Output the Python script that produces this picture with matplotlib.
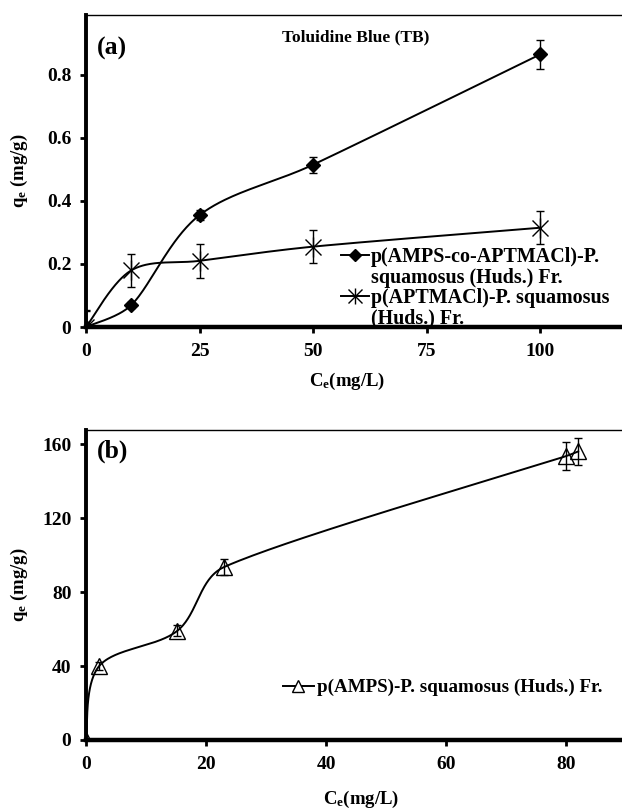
import numpy as np
import matplotlib
matplotlib.use("Agg")
import matplotlib.pyplot as plt

# --------------------
# data
# --------------------

# (a) Toluidine Blue
ce_a = [0, 10, 25, 50, 100]
qe_copoly = [0.0, 0.07, 0.355, 0.515, 0.865]
err_copoly = [0.05, 0.01, 0.015, 0.025, 0.045]
qe_aptmacl = [0.0, 0.18, 0.21, 0.255, 0.315]
err_aptmacl = [0.054, 0.053, 0.053, 0.053, 0.053]

# (b) p(AMPS)
ce_b = [0, 2.2, 15.2, 23, 80, 82]
qe_amps = [0, 40, 59, 93.5, 153.5, 156]
err_amps = [0, 2, 3, 4.5, 7.5, 7.5]

xticks_a = [0, 25, 50, 75, 100]
yticks_a = [0, 0.2, 0.4, 0.6, 0.8]
ytlabels_a = ["0", "0.2", "0.4", "0.6", "0.8"]
xticks_b = [0, 20, 40, 60, 80]
yticks_b = [0, 40, 80, 120, 160]

# legend text of (a), one entry per printed line
label_copoly = ["p(AMPS-co-APTMACl)-P.", "squamosus (Huds.) Fr."]
label_aptmacl = ["p(APTMACl)-P. squamosus", "(Huds.) Fr."]
label_amps = "p(AMPS)-P. squamosus (Huds.) Fr."

plt.rcParams["font.family"] = "Liberation Serif"
plt.rcParams["font.weight"] = "bold"
plt.rcParams["mathtext.fontset"] = "custom"
plt.rcParams["mathtext.rm"] = "Liberation Serif:bold"
plt.rcParams["mathtext.it"] = "Liberation Serif:bold"
plt.rcParams["mathtext.bf"] = "Liberation Serif:bold"

W, H = 622, 810


def smooth(x, y, kx, ky, n=60):
    # Excel-like smoothed line: Catmull-Rom bezier, control arms clamped
    # (in pixel space) so short segments do not loop back
    x = np.asarray(x, float) * kx
    y = np.asarray(y, float) * ky
    P = np.column_stack([x, y])
    P = np.vstack([P[0], P, P[-1]])
    t = np.linspace(0, 1, n)[:, None]
    out = []
    for i in range(1, len(P) - 2):
        p0, p1, p2, p3 = P[i - 1], P[i], P[i + 1], P[i + 2]
        seg = np.linalg.norm(p2 - p1)
        a1 = (p2 - p0) / 6
        a2 = (p3 - p1) / 6
        lim = 0.35 * seg
        if np.linalg.norm(a1) > lim:
            a1 = a1 / np.linalg.norm(a1) * lim
        if np.linalg.norm(a2) > lim:
            a2 = a2 / np.linalg.norm(a2) * lim
        c1 = p1 + a1
        c2 = p2 - a2
        b = ((1 - t) ** 3 * p1 + 3 * (1 - t) ** 2 * t * c1
             + 3 * (1 - t) * t ** 2 * c2 + t ** 3 * p2)
        out.append(b)
    out = np.vstack(out)
    return out[:, 0] / kx, out[:, 1] / ky


def style_axes(ax):
    ax.spines["right"].set_visible(False)
    ax.spines["top"].set_linewidth(1.0)
    ax.spines["left"].set_linewidth(2.8)
    ax.spines["bottom"].set_linewidth(3.2)
    ax.tick_params(axis="both", direction="out", length=4, width=2.0,
                   labelsize=14)
    ax.tick_params(axis="x", pad=7.5)
    ax.tick_params(axis="y", pad=6.5)


fig = plt.figure(figsize=(W / 100, H / 100), dpi=100)

# --------------------
# (a)
# --------------------
ax1 = fig.add_axes([86 / W, 1 - 327 / H, 536 / W, 312 / H])
xl_a = (0, 118)
yl_a = (0, 0.99)
kx = 536 / (xl_a[1] - xl_a[0])
ky = 312 / (yl_a[1] - yl_a[0])

sx, sy = smooth(ce_a, qe_copoly, kx, ky)
ax1.plot(sx, sy, color="black", lw=1.4, zorder=2)
ax1.errorbar(ce_a, qe_copoly, yerr=err_copoly, fmt="none", ecolor="black",
             elinewidth=1.0, capsize=3, capthick=1.0, zorder=3)
ax1.plot(ce_a, qe_copoly, "D", color="black", ms=7.5, zorder=4)

sx, sy = smooth(ce_a, qe_aptmacl, kx, ky)
ax1.plot(sx, sy, color="black", lw=1.4, zorder=2)
ax1.errorbar(ce_a, qe_aptmacl, yerr=err_aptmacl, fmt="none", ecolor="black",
             elinewidth=1.0, capsize=3, capthick=1.0, zorder=3)
ax1.plot(ce_a, qe_aptmacl, "x", color="black", ms=12, mew=1.0, zorder=4)
ax1.plot(ce_a, qe_aptmacl, "|", color="black", ms=14, mew=1.0, zorder=4)

ax1.set_xlim(*xl_a)
ax1.set_ylim(*yl_a)
ax1.set_xticks(xticks_a)
ax1.set_yticks(yticks_a)
ax1.set_yticklabels(ytlabels_a)
style_axes(ax1)
ax1.set_xlabel("C$_\\mathregular{e}$(mg/L)", fontsize=13.5, fontweight="bold")
ax1.set_ylabel("q$_\\mathregular{e}$ (mg/g)", fontsize=13.5, fontweight="bold")
ax1.xaxis.set_label_coords(0.488, -0.141)
ax1.yaxis.set_label_coords(-0.105, 0.5)

ax1.text(0.02, 0.93, "(a)", transform=ax1.transAxes, fontsize=18.5,
         fontweight="bold", va="top")
ax1.text(0.504, 0.955, "Toluidine Blue (TB)", transform=ax1.transAxes,
         fontsize=12.5, fontweight="bold", va="top", ha="center")

h1 = plt.Line2D([], [], color="black", lw=1.4, marker="D", ms=6.5)
h2a = plt.Line2D([], [], color="black", lw=1.4, marker="x", ms=10, mew=1.0)
h2b = plt.Line2D([], [], color="none", marker="|", ms=12, mew=1.0,
                 mec="black")
blank = plt.Line2D([], [], color="none")
leg = ax1.legend([h1, blank, (h2a, h2b), blank],
                 label_copoly + label_aptmacl,
                 loc="upper left", bbox_to_anchor=(0.476, 0.256),
                 frameon=False, fontsize=14.45, handlelength=1.4,
                 handletextpad=0.1, labelspacing=0.03, borderpad=0,
                 borderaxespad=0)

# --------------------
# (b)
# --------------------
ax2 = fig.add_axes([86 / W, 1 - 740 / H, 536 / W, 310 / H])
xl_b = (0, 89.3)
yl_b = (0, 167.6)
kx = 536 / (xl_b[1] - xl_b[0])
ky = 310 / (yl_b[1] - yl_b[0])

sx, sy = smooth(ce_b, qe_amps, kx, ky)
ax2.plot(sx, sy, color="black", lw=1.4, zorder=2)
ax2.errorbar(ce_b, qe_amps, yerr=err_amps, fmt="none", ecolor="black",
             elinewidth=1.0, capsize=3, capthick=1.0, zorder=3)
ax2.plot(ce_b, qe_amps, "^", color="black", mfc="none", ms=11, mew=1.0,
         zorder=4)

ax2.set_xlim(*xl_b)
ax2.set_ylim(*yl_b)
ax2.set_xticks(xticks_b)
ax2.set_yticks(yticks_b)
style_axes(ax2)
ax2.set_xlabel("C$_\\mathregular{e}$(mg/L)", fontsize=13.5, fontweight="bold")
ax2.set_ylabel("q$_\\mathregular{e}$ (mg/g)", fontsize=13.5, fontweight="bold")
ax2.xaxis.set_label_coords(0.513, -0.158)
ax2.yaxis.set_label_coords(-0.105, 0.5)

ax2.text(0.02, 0.968, "(b)", transform=ax2.transAxes, fontsize=18.5,
         fontweight="bold", va="top")

h3 = plt.Line2D([], [], color="black", lw=1.4, marker="^", mfc="white",
                ms=9, mew=1.0)
ax2.legend([h3], [label_amps], loc="upper left",
           bbox_to_anchor=(0.368, 0.197), frameon=False, fontsize=13.7,
           handlelength=1.6, handletextpad=0.15, borderpad=0,
           borderaxespad=0)

fig.savefig("out.png", dpi=100)
